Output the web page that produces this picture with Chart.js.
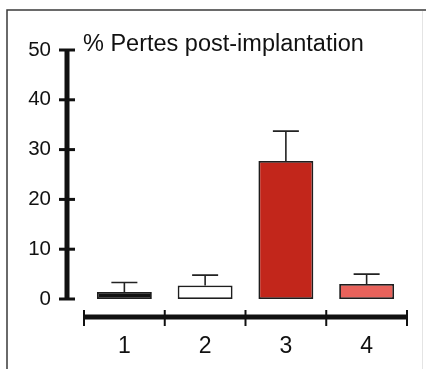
<!DOCTYPE html>
<html>
<head>
<meta charset="utf-8">
<script src="https://cdn.jsdelivr.net/npm/chart.js@4/dist/chart.umd.min.js"></script>
<style>
  html, body { margin: 0; padding: 0; background: #fff; }
  #wrap { width: 426px; height: 369px; }
</style>
</head>
<body>
<div id="wrap"><canvas id="graficoPertes" width="426" height="369"></canvas></div>
<script>
// Données
var groupes = ['1', '2', '3', '4'];
var pertes = [1.4, 2.7, 27.7, 3.0];
var erreurs = [1.9, 2.1, 6.0, 2.0];
var couleurs = ['#111111', '#ffffff', '#c2261b', '#e8625b'];
var titre = '% Pertes post-implantation';

// Cadre, axes décalés, barres d'erreur et titre
var dessinFigure = {
    id: 'dessinFigure',
    afterDatasetsDraw: function (chart) {
        var ctx = chart.ctx;
        var area = chart.chartArea;
        var sy = chart.scales.y;
        ctx.save();

        // cadre
        ctx.strokeStyle = '#3a3a3a';
        ctx.lineWidth = 1.5;
        ctx.beginPath();
        ctx.moveTo(7, 369);
        ctx.lineTo(7, 10);
        ctx.lineTo(426, 10);
        ctx.stroke();
        ctx.strokeStyle = '#e4e4e4';
        ctx.lineWidth = 1;
        ctx.beginPath();
        ctx.moveTo(422.5, 11);
        ctx.lineTo(422.5, 369);
        ctx.stroke();

        // axe Y
        var xAxe = area.left - 17;
        ctx.strokeStyle = '#111';
        ctx.lineWidth = 5;
        ctx.beginPath();
        ctx.moveTo(xAxe, sy.getPixelForValue(sy.max) - 1);
        ctx.lineTo(xAxe, sy.getPixelForValue(sy.min) + 1);
        ctx.stroke();
        ctx.lineWidth = 3;
        sy.ticks.forEach(function (t) {
            var y = sy.getPixelForValue(t.value);
            ctx.beginPath();
            ctx.moveTo(xAxe - 8, y);
            ctx.lineTo(xAxe + 8, y);
            ctx.stroke();
        });

        // axe X
        var yAxe = area.bottom + 18;
        ctx.lineWidth = 5;
        ctx.beginPath();
        ctx.moveTo(area.left, yAxe);
        ctx.lineTo(area.right, yAxe);
        ctx.stroke();
        ctx.lineWidth = 2;
        var pas = (area.right - area.left) / groupes.length;
        for (var i = 0; i <= groupes.length; i++) {
            var x = area.left + i * pas;
            ctx.beginPath();
            ctx.moveTo(x, yAxe - 7);
            ctx.lineTo(x, yAxe + 9);
            ctx.stroke();
        }

        // barres d'erreur
        ctx.strokeStyle = '#222';
        ctx.lineWidth = 1.6;
        var meta = chart.getDatasetMeta(0);
        meta.data.forEach(function (bar, i) {
            var yHaut = sy.getPixelForValue(pertes[i] + erreurs[i]);
            ctx.beginPath();
            ctx.moveTo(bar.x, bar.y);
            ctx.lineTo(bar.x, yHaut);
            ctx.moveTo(bar.x - 13, yHaut);
            ctx.lineTo(bar.x + 13, yHaut);
            ctx.stroke();
        });

        // titre
        ctx.fillStyle = '#111';
        ctx.font = '23.5px "Liberation Sans", Arial, sans-serif';
        ctx.textBaseline = 'alphabetic';
        ctx.textAlign = 'left';
        ctx.fillText(titre, area.left - 1, 51);

        ctx.restore();
    }
};

var ctxPertes = document.getElementById('graficoPertes').getContext('2d');
new Chart(ctxPertes, {
    type: 'bar',
    data: {
        labels: groupes,
        datasets: [{
            data: pertes,
            backgroundColor: couleurs,
            borderColor: '#1e1e1e',
            borderWidth: 1.8,
            borderSkipped: false,
            barPercentage: 0.68,
            categoryPercentage: 1
        }]
    },
    options: {
        responsive: false,
        animation: false,
        layout: { padding: { top: 50, right: 19, left: 0, bottom: 0 } },
        plugins: {
            legend: { display: false },
            tooltip: { enabled: false }
        },
        scales: {
            x: {
                offset: true,
                grid: { display: false },
                border: { display: false },
                ticks: {
                    color: '#111',
                    padding: 26,
                    font: { family: '"Liberation Sans", Arial, sans-serif', size: 23 }
                },
                afterFit: function (s) { s.height = 70; }
            },
            y: {
                min: 0,
                max: 50,
                grid: { display: false },
                border: { display: false },
                ticks: {
                    stepSize: 10,
                    color: '#111',
                    padding: 25,
                    font: { family: '"Liberation Sans", Arial, sans-serif', size: 20.5 }
                },
                afterFit: function (s) { s.width = 84; }
            }
        }
    },
    plugins: [dessinFigure]
});
</script>
</body>
</html>
